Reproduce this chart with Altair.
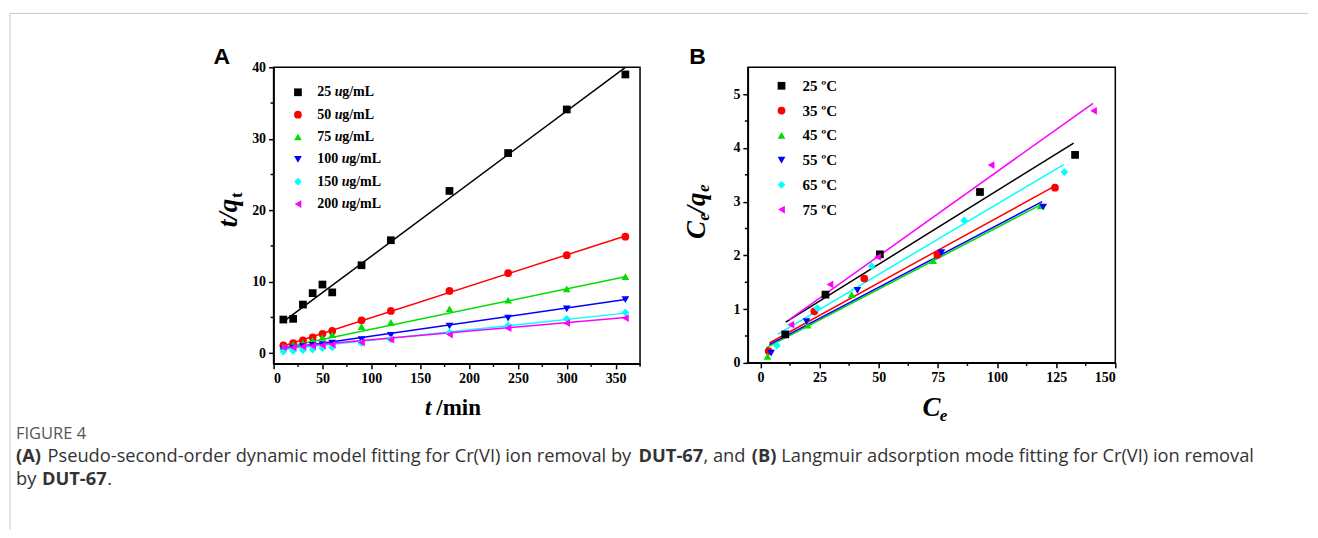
import altair as alt
import pandas as pd

# ---------------- Panel A data (pseudo-second-order) ----------------
t_min = [10, 20, 30, 40, 50, 60, 90, 120, 180, 240, 300, 360]
a_25 = [4.7, 4.8, 6.8, 8.4, 9.6, 8.5, 12.3, 15.8, 22.7, 28.0, 34.1, 39.0]
a_50 = [1.1, 1.4, 1.8, 2.2, 2.7, 3.1, 4.6, 5.9, 8.7, 11.2, 13.7, 16.3]
a_75 = [0.9, 1.2, 1.4, 1.8, 2.2, 2.6, 3.7, 4.3, 6.2, 7.4, 9.0, 10.7]
a_100 = [0.5, 0.7, 0.9, 1.1, 1.2, 1.4, 1.9, 2.5, 3.8, 4.9, 6.2, 7.5]
a_150 = [0.2, 0.3, 0.4, 0.5, 0.7, 0.8, 1.4, 1.9, 2.9, 3.9, 4.8, 5.7]
a_200 = [0.8, 0.8, 0.9, 1.0, 1.1, 1.2, 1.5, 1.9, 2.6, 3.5, 4.2, 4.9]
a_fit_t = [10, 360]
a_fit_25 = [4.4, 40.0]
a_fit_50 = [1.0, 16.4]
a_fit_75 = [0.8, 10.7]
a_fit_100 = [0.6, 7.5]
a_fit_150 = [0.5, 5.6]
a_fit_200 = [0.8, 5.0]
a_labels = ["25", "50", "75", "100", "150", "200"]
a_xticks = [0, 50, 100, 150, 200, 250, 300, 350]
a_xminor = [25, 75, 125, 175, 225, 275, 325, 375]
a_yticks = [0, 10, 20, 30, 40]
a_yminor = [5, 15, 25, 35]

# ---------------- Panel B data (Langmuir) ----------------
b_labels = ["25 \u00baC", "35 \u00baC", "45 \u00baC", "55 \u00baC", "65 \u00baC", "75 \u00baC"]
b_x_25 = [10.5, 27.5, 50.5, 92.8, 133.0]
b_y_25 = [0.53, 1.27, 2.02, 3.18, 3.87]
b_x_35 = [3.5, 22.8, 43.9, 74.8, 124.5]
b_y_35 = [0.22, 0.96, 1.57, 2.01, 3.26]
b_x_45 = [3.0, 20.0, 38.6, 73.0, 118.5]
b_y_45 = [0.12, 0.70, 1.27, 1.90, 2.92]
b_x_55 = [4.5, 19.5, 41.0, 76.5, 119.5]
b_y_55 = [0.18, 0.77, 1.35, 2.05, 2.90]
b_x_65 = [7.0, 24.0, 47.0, 86.1, 128.5]
b_y_65 = [0.32, 1.02, 1.80, 2.65, 3.55]
b_x_75 = [12.9, 29.4, 49.5, 97.5, 140.8]
b_y_75 = [0.71, 1.46, 1.97, 3.68, 4.69]
b_fitx_25 = [10.7, 132.4]
b_fity_25 = [0.76, 4.09]
b_fitx_35 = [3.8, 124.0]
b_fity_35 = [0.37, 3.28]
b_fitx_45 = [2.4, 118.4]
b_fity_45 = [0.28, 2.94]
b_fitx_55 = [3.8, 119.1]
b_fity_55 = [0.34, 3.00]
b_fitx_65 = [7.3, 128.2]
b_fity_65 = [0.53, 3.69]
b_fitx_75 = [12.1, 140.6]
b_fity_75 = [0.80, 4.83]
b_xticks = [0, 25, 50, 75, 100, 125, 150]
b_xminor = [12.5, 37.5, 62.5, 87.5, 112.5, 137.5]
b_yticks = [0, 1, 2, 3, 4, 5]
b_yminor = [0.5, 1.5, 2.5, 3.5, 4.5]

colors = ["#000000", "#ff0000", "#00dd00", "#0000ff", "#00ffff", "#ff00ff"]
shapes = ["square", "circle", "triangle-up", "triangle-down", "diamond", "triangle-left"]

SERIF = "Liberation Serif"
ONE = pd.DataFrame({"k": [0]})


def axis(values):
    return alt.Axis(values=values, title=None, grid=False, tickSize=5, tickWidth=1.5,
                    tickColor="black", domainColor="black", domainWidth=1.5,
                    labelFont=SERIF, labelFontWeight="bold", labelFontSize=14,
                    labelColor="black", labelPadding=3)


def txt(text, x, y, size, font=SERIF, weight="bold", style="normal", angle=0,
        align="center", baseline="middle", color="black"):
    return alt.Chart(ONE).mark_text(
        text=text, fontSize=size, font=font, fontWeight=weight, fontStyle=style,
        angle=angle, align=align, baseline=baseline, color=color
    ).encode(x=alt.value(x), y=alt.value(y))


def panel(xs_pts, ys_pts, xs_fit, ys_fit, xdom, ydom, xt, xm, yt, ym, W, H):
    X = lambda: alt.X("x:Q", scale=alt.Scale(domain=xdom, nice=False, zero=False), axis=axis(xt))
    Y = lambda: alt.Y("y:Q", scale=alt.Scale(domain=ydom, nice=False, zero=False), axis=axis(yt))
    layers = []
    for i in range(6):
        df = pd.DataFrame({"x": xs_fit[i], "y": ys_fit[i]})
        layers.append(alt.Chart(df).mark_line(color=colors[i], strokeWidth=1.5).encode(x=X(), y=Y()))
    for i in range(6):
        df = pd.DataFrame({"x": xs_pts[i], "y": ys_pts[i]})
        layers.append(alt.Chart(df).mark_point(shape=shapes[i], filled=True, size=60, opacity=1,
                                               color=colors[i]).encode(x=X(), y=Y()))
    layers.append(alt.Chart(pd.DataFrame({"x": xm})).mark_rule(color="black", strokeWidth=1.5)
                  .encode(x=X(), y=alt.value(H), y2=alt.value(H + 3)))
    layers.append(alt.Chart(pd.DataFrame({"y": ym})).mark_rule(color="black", strokeWidth=1.5)
                  .encode(y=Y(), x=alt.value(0), x2=alt.value(-3)))
    return layers


# ---------------- Panel A ----------------
WA, HA = 367, 297
layersA = panel([t_min] * 6, [a_25, a_50, a_75, a_100, a_150, a_200],
                [a_fit_t] * 6, [a_fit_25, a_fit_50, a_fit_75, a_fit_100, a_fit_150, a_fit_200],
                [0, 375], [-1.5, 40], a_xticks, a_xminor, a_yticks, a_yminor, WA, HA)

# legend A
for i, lab in enumerate(a_labels):
    yy = 25 + i * 22.4
    layersA.append(alt.Chart(ONE).mark_point(shape=shapes[i], filled=True, size=60, opacity=1,
                                             color=colors[i]).encode(x=alt.value(24.4), y=alt.value(yy)))
    nx = 43.7
    ux = nx + len(lab) * 7.0 + 3.6
    layersA.append(txt(lab, nx, yy, 14, align="left"))
    layersA.append(txt("u", ux, yy, 14, style="italic", align="left"))
    layersA.append(txt("g/mL", ux + 7.4, yy, 14, align="left"))

# titles A
layersA.append(txt("A", -52, -10, 23, font="Liberation Sans"))
layersA.append(txt("t/q", -45, 146, 27, style="italic", angle=270))
layersA.append(txt("t", -37, 128, 17, angle=270))
layersA.append(txt("t", 158, 348, 23, style="italic", align="right", baseline="alphabetic"))
layersA.append(txt("/min", 163, 348, 23, align="left", baseline="alphabetic"))

# page frame
layersA.append(alt.Chart(ONE).mark_rule(color="#c8c8c8", strokeWidth=1)
               .encode(x=alt.value(-264), y=alt.value(-54), y2=alt.value(463)))
layersA.append(alt.Chart(ONE).mark_rule(color="#c8c8c8", strokeWidth=1)
               .encode(x=alt.value(-264), x2=alt.value(1036), y=alt.value(-54)))

# caption (page x minus 272)
CAP = "Open Sans"
layersA.append(txt("FIGURE 4", -258, 367, 16.5, font=CAP, weight="normal", align="left", color="#555555"))
cap_segments = [
    ("(A)", 14, 390, "bold"),
    ("Pseudo-second-order dynamic model fitting for Cr(VI) ion removal by", 45.5, 390, "normal"),
    ("DUT-67", 637.5, 390, "bold"),
    (", and", 702.5, 390, "normal"),
    ("(B)", 751.0, 390, "bold"),
    ("Langmuir adsorption mode fitting for Cr(VI) ion removal", 780.5, 390, "normal"),
    ("by", 14, 413, "normal"),
    ("DUT-67", 40.0, 413, "bold"),
    (".", 105.5, 413, "normal"),
]
for s, x, y, w in cap_segments:
    layersA.append(txt(s, x - 272, y, 18.3, font=CAP, weight=w, align="left", color="#333333"))

panelA = alt.layer(*layersA).properties(width=WA, height=HA)

# ---------------- Panel B ----------------
WB, HB = 368, 296
layersB = panel([b_x_25, b_x_35, b_x_45, b_x_55, b_x_65, b_x_75],
                [b_y_25, b_y_35, b_y_45, b_y_55, b_y_65, b_y_75],
                [b_fitx_25, b_fitx_35, b_fitx_45, b_fitx_55, b_fitx_65, b_fitx_75],
                [b_fity_25, b_fity_35, b_fity_45, b_fity_55, b_fity_65, b_fity_75],
                [-5.3, 150], [0, 5.5], b_xticks, b_xminor, b_yticks, b_yminor, WB, HB)

for i, lab in enumerate(b_labels):
    yy = 18.5 + i * 24.8
    layersB.append(alt.Chart(ONE).mark_point(shape=shapes[i], filled=True, size=60, opacity=1,
                                             color=colors[i]).encode(x=alt.value(33.7), y=alt.value(yy)))
    layersB.append(txt(lab, 54.7, yy, 15, align="left"))

layersB.append(txt("B", -50.5, -10, 23, font="Liberation Sans"))
layersB.append(txt("C", -51, 163, 27, style="italic", angle=270))
layersB.append(txt("e", -44, 150, 17, style="italic", angle=270))
layersB.append(txt("/q", -51, 136, 27, style="italic", angle=270))
layersB.append(txt("e", -44, 121, 17, style="italic", angle=270))
layersB.append(txt("C", 184, 341.5, 27, style="italic"))
layersB.append(txt("e", 196, 349, 17, style="italic"))

panelB = alt.layer(*layersB).properties(width=WB, height=HB)

chart = alt.hconcat(
    panelA, panelB, spacing=108, bounds="flush",
    padding={"left": 0, "top": 3, "right": 0, "bottom": 0}
).configure_view(stroke="black", strokeWidth=1.5)

chart.save("out.html", embed_options={"renderer": "svg", "actions": False})
